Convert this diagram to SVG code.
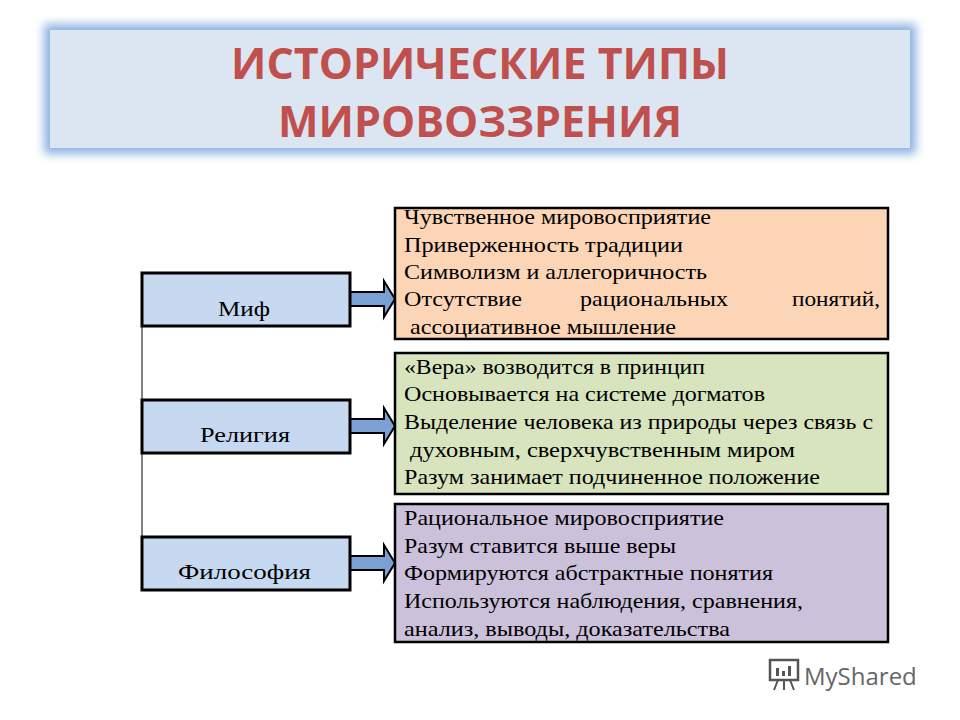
<svg xmlns="http://www.w3.org/2000/svg" width="960" height="720" viewBox="0 0 960 720">
<defs>
<filter id="glow" x="-10%" y="-30%" width="120%" height="160%"><feGaussianBlur stdDeviation="5"/></filter>
<style>
.k{fill:#c6d9f1;stroke:#000;stroke-width:3}
.kt{font-family:"Liberation Serif",serif;font-size:22px;fill:#000}
.d{stroke:#000;stroke-width:2.5}
.dt{font-family:"Liberation Serif",serif;font-size:21px;fill:#000}
.ar{fill:#7ba0d4;stroke:#000;stroke-width:2}
</style>
</defs>
<rect width="960" height="720" fill="#fff"/>
<g id="title">
<rect x="44" y="24" width="872" height="130" fill="#8db3e2" filter="url(#glow)"/>
<rect x="50" y="30" width="860" height="118" fill="#dce6f2"/>
<text x="480" y="79" font-family="'Open Sans','Liberation Sans',sans-serif" font-weight="bold" font-size="43" fill="#c0504d" text-anchor="middle">ИСТОРИЧЕСКИЕ ТИПЫ</text>
<text x="480" y="137" font-family="'Open Sans','Liberation Sans',sans-serif" font-weight="bold" font-size="43" fill="#c0504d" text-anchor="middle">МИРОВОЗЗРЕНИЯ</text>
</g>
<g id="connectors">
<line x1="142" y1="326" x2="142" y2="537" stroke="#000" stroke-width="1"/>
<path class="ar" d="M350,292 H384 V281 L395,299 L384,317 V306 H350 Z"/>
<path class="ar" d="M350,419 H384 V408 L395,426 L384,444 V433 H350 Z"/>
<path class="ar" d="M350,556 H384 V545 L395,563 L384,581 V570 H350 Z"/>
</g>
<g id="myth">
<rect class="k" x="142" y="273" width="208" height="53"/>
<text class="kt" x="218" y="316" textLength="52" lengthAdjust="spacingAndGlyphs">Миф</text>
</g>
<g id="religion">
<rect class="k" x="142" y="400" width="208" height="53"/>
<text class="kt" x="200" y="442" textLength="90" lengthAdjust="spacingAndGlyphs">Религия</text>
</g>
<g id="philosophy">
<rect class="k" x="142" y="537" width="208" height="53"/>
<text class="kt" x="178" y="579" textLength="133" lengthAdjust="spacingAndGlyphs">Философия</text>
</g>
<g id="myth-desc">
<rect class="d" x="395" y="208" width="493" height="131" fill="#fbd5b5"/>
<text class="dt" x="404" y="224" textLength="307" lengthAdjust="spacingAndGlyphs">Чувственное мировосприятие</text>
<text class="dt" x="404" y="252" textLength="279" lengthAdjust="spacingAndGlyphs">Приверженность традиции</text>
<text class="dt" x="404" y="279" textLength="303" lengthAdjust="spacingAndGlyphs">Символизм и аллегоричность</text>
<text class="dt" x="404" y="306" textLength="118" lengthAdjust="spacingAndGlyphs">Отсутствие</text>
<text class="dt" x="580" y="306" textLength="148" lengthAdjust="spacingAndGlyphs">рациональных</text>
<text class="dt" x="792" y="306" textLength="88" lengthAdjust="spacingAndGlyphs">понятий,</text>
<text class="dt" x="410" y="334" textLength="266" lengthAdjust="spacingAndGlyphs">ассоциативное мышление</text>
</g>
<g id="religion-desc">
<rect class="d" x="395" y="353" width="493" height="141" fill="#d7e4bd"/>
<text class="dt" x="404" y="374" textLength="301" lengthAdjust="spacingAndGlyphs">«Вера» возводится в принцип</text>
<text class="dt" x="404" y="401" textLength="361" lengthAdjust="spacingAndGlyphs">Основывается на системе догматов</text>
<text class="dt" x="404" y="429" textLength="469" lengthAdjust="spacingAndGlyphs">Выделение человека из природы через связь с</text>
<text class="dt" x="410" y="457" textLength="385" lengthAdjust="spacingAndGlyphs">духовным, сверхчувственным миром</text>
<text class="dt" x="404" y="484" textLength="416" lengthAdjust="spacingAndGlyphs">Разум занимает подчиненное положение</text>
</g>
<g id="philosophy-desc">
<rect class="d" x="395" y="504" width="493" height="138" fill="#ccc1da"/>
<text class="dt" x="404" y="525" textLength="320" lengthAdjust="spacingAndGlyphs">Рациональное мировосприятие</text>
<text class="dt" x="404" y="553" textLength="272" lengthAdjust="spacingAndGlyphs">Разум ставится выше веры</text>
<text class="dt" x="404" y="580" textLength="369" lengthAdjust="spacingAndGlyphs">Формируются абстрактные понятия</text>
<text class="dt" x="404" y="608" textLength="399" lengthAdjust="spacingAndGlyphs">Используются наблюдения, сравнения,</text>
<text class="dt" x="404" y="636" textLength="326" lengthAdjust="spacingAndGlyphs">анализ, выводы, доказательства</text>
</g>
<g id="logo">
<rect x="770" y="660" width="28" height="20" fill="none" stroke="#555" stroke-width="2.5"/>
<rect x="776" y="668" width="3" height="8" fill="#555"/><rect x="782" y="671" width="3" height="5" fill="#555"/><rect x="788" y="666" width="3" height="10" fill="#555"/>
<path d="M778,680 L774,690 M784,680 V690 M790,680 L794,690" stroke="#555" stroke-width="2"/>
<text x="804" y="685" font-family="'Open Sans','Liberation Sans',sans-serif" font-size="24" fill="#666">MyShared</text>
</g>
</svg>
